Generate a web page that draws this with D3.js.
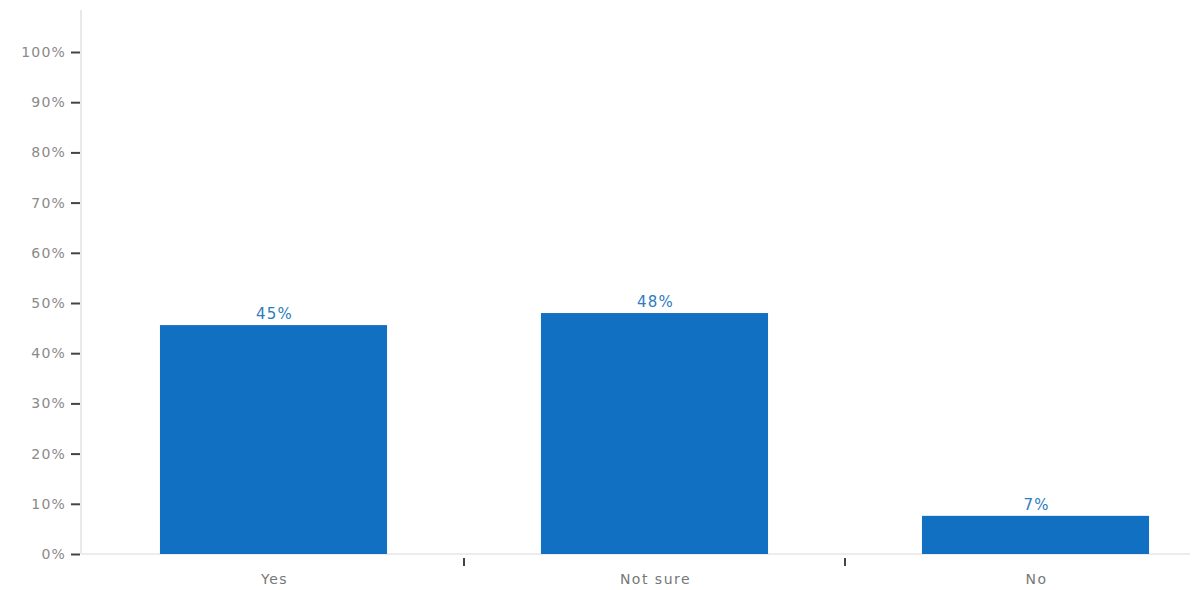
<!DOCTYPE html>
<html>
<head>
<meta charset="utf-8">
<script src="https://cdn.jsdelivr.net/npm/d3@7"></script>
<style>
  html, body { margin: 0; padding: 0; background: #fff; }
  svg { display: block; font-family: "DejaVu Sans", Arial, sans-serif; }
</style>
</head>
<body>
<svg id="chart" width="1195" height="590"></svg>
<script>
const categories = ["Yes", "Not sure", "No"];
const values = [45.6, 48.0, 7.6];
const valueLabels = ["45%", "48%", "7%"];
const yTicks = [0, 10, 20, 30, 40, 50, 60, 70, 80, 90, 100];

const svg = d3.select("#chart");
const y = d3.scaleLinear().domain([0, 100]).range([554, 52]);
const x = d3.scaleBand().domain(categories).range([83, 1226]).paddingInner(0.404).paddingOuter(0.202);

// Y axis line
svg.append("line")
  .attr("x1", 81).attr("x2", 81).attr("y1", 10).attr("y2", 554)
  .attr("stroke", "#e2e2e2").attr("stroke-width", 1.5);

// baseline
svg.append("line")
  .attr("x1", 81).attr("x2", 1190).attr("y1", y(0)).attr("y2", y(0))
  .attr("stroke", "#e6e6e6").attr("stroke-width", 1.5);

// y ticks
const yAxis = svg.append("g").attr("transform", "translate(81,0)")
  .call(d3.axisLeft(y).tickValues(yTicks).tickFormat(d => d + "%").tickSize(10).tickPadding(6));
yAxis.select(".domain").remove();
yAxis.selectAll(".tick line").attr("stroke", "#444").attr("stroke-width", 2).attr("x2", -1).attr("x1", -10);
yAxis.selectAll(".tick text")
  .attr("fill", "#8a8a8a").attr("font-size", 14).attr("letter-spacing", 1.2)
  .attr("font-family", "DejaVu Sans, Arial, sans-serif")
  .attr("x", -15);

// bars
svg.selectAll("rect.bar").data(values).enter().append("rect")
  .attr("class", "bar")
  .attr("x", (d, i) => x(categories[i]))
  .attr("width", x.bandwidth())
  .attr("y", d => y(d))
  .attr("height", d => y(0) - y(d))
  .attr("fill", "#1170c2");

// value labels
svg.selectAll("text.val").data(values).enter().append("text")
  .attr("class", "val")
  .attr("x", (d, i) => x(categories[i]) + x.bandwidth() / 2 + 1)
  .attr("y", d => y(d) - 6)
  .attr("text-anchor", "middle")
  .attr("fill", "#2d7cc0")
  .attr("font-size", 15)
  .attr("letter-spacing", 1.2)
  .text((d, i) => valueLabels[i]);

// category labels
svg.selectAll("text.cat").data(categories).enter().append("text")
  .attr("class", "cat")
  .attr("x", d => x(d) + x.bandwidth() / 2 + 1)
  .attr("y", 584)
  .attr("text-anchor", "middle")
  .attr("fill", "#777")
  .attr("font-size", 14)
  .attr("letter-spacing", 1.5)
  .text(d => d);

// x separator ticks at interior band boundaries
const boundaries = categories.slice(1).map(c => x(c) - x.step() * x.paddingInner() / 2);
svg.selectAll("line.sep").data(boundaries).enter().append("line")
  .attr("class", "sep")
  .attr("x1", d => d).attr("x2", d => d)
  .attr("y1", 558).attr("y2", 566)
  .attr("stroke", "#444").attr("stroke-width", 2);
</script>
</body>
</html>
